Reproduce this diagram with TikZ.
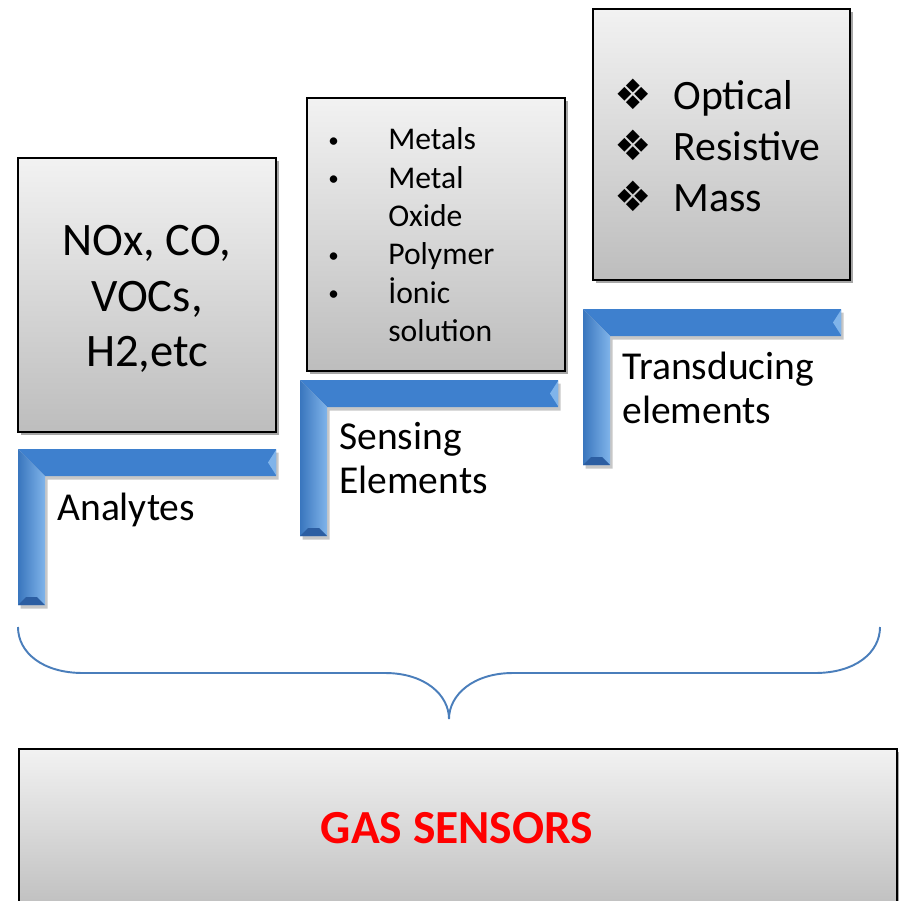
\documentclass[tikz,border=0pt]{standalone}
\usepackage{fontspec}
\setmainfont{Carlito}
\newfontfamily\dingfont{DejaVu Sans}
\usepackage{xcolor}
\usetikzlibrary{positioning,shadows}
\definecolor{barblue}{RGB}{62,128,206}
\definecolor{barlight}{RGB}{128,180,234}
\definecolor{bardark}{RGB}{44,94,162}
\definecolor{bracecol}{RGB}{74,126,187}
\definecolor{boxtop}{RGB}{242,242,242}
\definecolor{boxbot}{RGB}{189,189,189}
\definecolor{gasred}{RGB}{255,0,0}
\newcommand{\smallbullet}{\raisebox{1.6pt}{\fontsize{12}{12}\selectfont\textbullet}}

\begin{document}
\begin{tikzpicture}[
		box/.style={draw=black, line width=0.9pt, top color=boxtop, bottom color=boxbot,
			drop shadow={shadow xshift=0.05cm, shadow yshift=-0.06cm, opacity=0.35, fill=black}},
		lab/.style={anchor=base west, align=left, inner sep=0pt, font=\fontsize{22.5}{24.5}\selectfont},
		lbar/.pic={
			\fill[black, opacity=0.22, xshift=0.05cm, yshift=-0.07cm] (0,0) -- (5.16,0) -- (5.16,-0.54)
				-- (0.54,-0.54) -- (0.54,-3.12) -- (0,-3.12) -- cycle;
			\fill[barblue] (0,0) -- (5.16,0) -- (5.16,-0.54) -- (0.54,-0.54) -- cycle;
			\shade[left color=barblue!92!black, right color=barlight] (0,0) -- (0.54,-0.54)
				-- (0.54,-3.12) -- (0,-3.12) -- cycle;
			\fill[bardark] (0,-3.12) -- (0.54,-3.12) -- (0.38,-2.96) -- (0.16,-2.96) -- cycle;
			\fill[barlight] (5.16,-0.02) -- (5.00,-0.27) -- (5.16,-0.52) -- cycle;
		}]
		\useasboundingbox (0,0) rectangle (18.02,18.00);
		\fill[white] (0,0) rectangle (18.02,18.00);

		% the three stages
		\node[box, minimum width=5.16cm, minimum height=5.48cm] (analytes) at (2.94,12.10) {};
		\node[align=center, inner sep=0pt, font=\fontsize{26.5}{31.6}\selectfont] (gases)
			at ([yshift=-0.08cm]analytes.center) {NOx, CO,\\VOCs,\\H2,etc};
		\node[box, minimum width=5.16cm, minimum height=5.46cm] (sensing) at (8.72,13.31) {};
		\node[box, minimum width=5.14cm, minimum height=5.42cm] (transducing) at (14.43,15.11) {};

		\node[anchor=base west, inner sep=0pt, font=\fontsize{18}{21.8}\selectfont] (materials)
			at (6.56,15.00)
			{\begin{tabular}[t]{@{}p{1.20cm}@{}l@{}}
			\smallbullet & Metals\\
			\smallbullet & Metal\\
			 & Oxide\\
			\smallbullet & Polymer\\
			\smallbullet & İonic\\
			 & solution
			\end{tabular}};
		\node[anchor=base west, inner sep=0pt, font=\fontsize{23.8}{28.8}\selectfont] (methods)
			at (12.28,15.80)
			{\begin{tabular}[t]{@{}p{1.18cm}@{}l@{}}
			{\dingfont ❖} & Optical\\
			{\dingfont ❖} & Resistive\\
			{\dingfont ❖} & Mass
			\end{tabular}};

		% stair steps
		\pic (analytesbar) at (0.36,9.02) {lbar};
		\pic (sensingbar) at (6.00,10.40) {lbar};
		\pic (transducingbar) at (11.66,11.82) {lbar};

		\node[lab] (analyteslab) at (1.14,7.60) {Analytes};
		\node[lab] (sensinglab) at (6.78,8.14) {Sensing\\Elements};
		\node[lab] (transducinglab) at (12.44,9.54) {Transducing\\elements};

		% brace
		\draw[bracecol, line width=1.1pt] (0.36,5.46) .. controls (0.36,4.95) and (0.85,4.54) .. (1.66,4.54)
			-- (7.70,4.54) .. controls (8.50,4.54) and (8.98,4.10) .. (8.98,3.62)
			.. controls (8.98,4.10) and (9.46,4.54) .. (10.26,4.54)
			-- (16.30,4.54) .. controls (17.11,4.54) and (17.60,4.95) .. (17.60,5.46);

		\node[box, minimum width=17.56cm, minimum height=3.34cm, anchor=north west] (gas) at (0.36,3.04) {};
		\node[anchor=base, text=gasred, font=\fontsize{27}{32}\selectfont\bfseries] (gastitle)
			at (9.14,1.14) {GAS SENSORS};
	\end{tikzpicture}
\end{document}
